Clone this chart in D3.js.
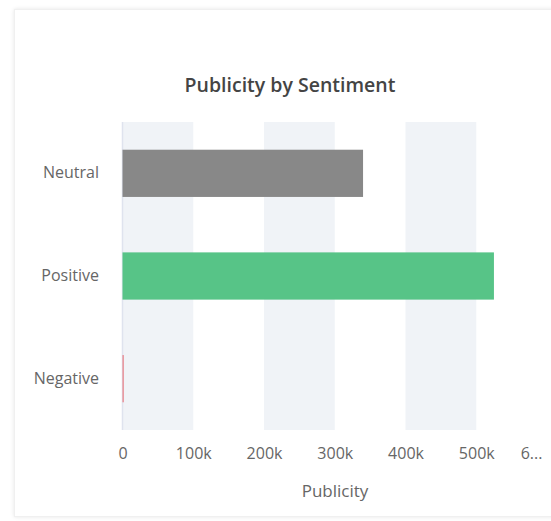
<!DOCTYPE html>
<html>
<head>
<meta charset="utf-8">
<script src="https://cdn.jsdelivr.net/npm/d3@7"></script>
<style>
html,body{margin:0;padding:0;background:#fff;overflow:hidden;}
#card{position:absolute;left:14px;top:9px;width:560px;height:508px;background:#fff;box-shadow:0 0 4px rgba(0,0,0,0.10);border:1px solid #f0f0f0;box-sizing:border-box;}
svg{position:absolute;left:0;top:0;}
text{font-family:"Open Sans",sans-serif;}
</style>
</head>
<body>
<div id="card"></div>
<svg id="chart" width="551" height="521"></svg>
<script>
const categories = ["Neutral", "Positive", "Negative"];
const values = [340000, 525000, 1800];
const colors = ["#888888", "#57c487", "#e8828a"];
const tickValues = [0, 100000, 200000, 300000, 400000, 500000, 600000];
const tickLabels = ["0", "100k", "200k", "300k", "400k", "500k", "6..."];
const title = "Publicity by Sentiment";
const xTitle = "Publicity";

const svg = d3.select("#chart");
const m = {left: 122.5, right: 547, top: 122, bottom: 430};

const x = d3.scaleLinear().domain([0, 600000]).range([m.left, m.right]);
const y = d3.scaleBand().domain(categories).range([m.top, m.bottom]).paddingInner(0.54).paddingOuter(0.27);

// alternating bands
const bands = d3.range(0, tickValues.length - 1, 2);
svg.selectAll("rect.band").data(bands).enter().append("rect")
  .attr("class", "band")
  .attr("x", i => x(tickValues[i]))
  .attr("y", m.top)
  .attr("width", i => x(tickValues[i + 1]) - x(tickValues[i]))
  .attr("height", m.bottom - m.top)
  .attr("fill", "#f0f3f7");

// zero line
svg.append("line")
  .attr("x1", x(0)).attr("x2", x(0))
  .attr("y1", m.top).attr("y2", m.bottom)
  .attr("stroke", "#dfe3ee").attr("stroke-width", 1.5);

// bars
svg.selectAll("rect.bar").data(categories).enter().append("rect")
  .attr("class", "bar")
  .attr("x", x(0))
  .attr("y", d => y(d))
  .attr("width", (d, i) => Math.max(1.2, x(values[i]) - x(0)))
  .attr("height", y.bandwidth())
  .attr("fill", (d, i) => colors[i]);

// x axis
const xAxis = d3.axisBottom(x).tickValues(tickValues).tickFormat((d, i) => tickLabels[i]).tickSize(0).tickPadding(0);
const gx = svg.append("g").attr("transform", `translate(0,${m.bottom})`).call(xAxis);
gx.select(".domain").remove();
gx.selectAll("text").attr("font-size", 16).attr("fill", "#666").attr("y", 29).attr("dy", 0)
  .attr("font-family", "'Open Sans',sans-serif")
  .attr("dx", (d, i) => i === tickValues.length - 1 ? -16 : 0);

// y axis
const yAxis = d3.axisLeft(y).tickSize(0).tickPadding(0);
const gy = svg.append("g").attr("transform", `translate(99,0)`).call(yAxis);
gy.select(".domain").remove();
gy.selectAll("text").attr("font-size", 16).attr("fill", "#666")
  .attr("font-family", "'Open Sans',sans-serif");

// title
svg.append("text").attr("x", 290).attr("y", 92).attr("text-anchor", "middle")
  .attr("font-size", 19.5).attr("font-weight", 600).attr("fill", "#444").text(title);

// x title
svg.append("text").attr("x", 335).attr("y", 497).attr("text-anchor", "middle")
  .attr("font-size", 17).attr("fill", "#666").text(xTitle);
</script>
</body>
</html>
